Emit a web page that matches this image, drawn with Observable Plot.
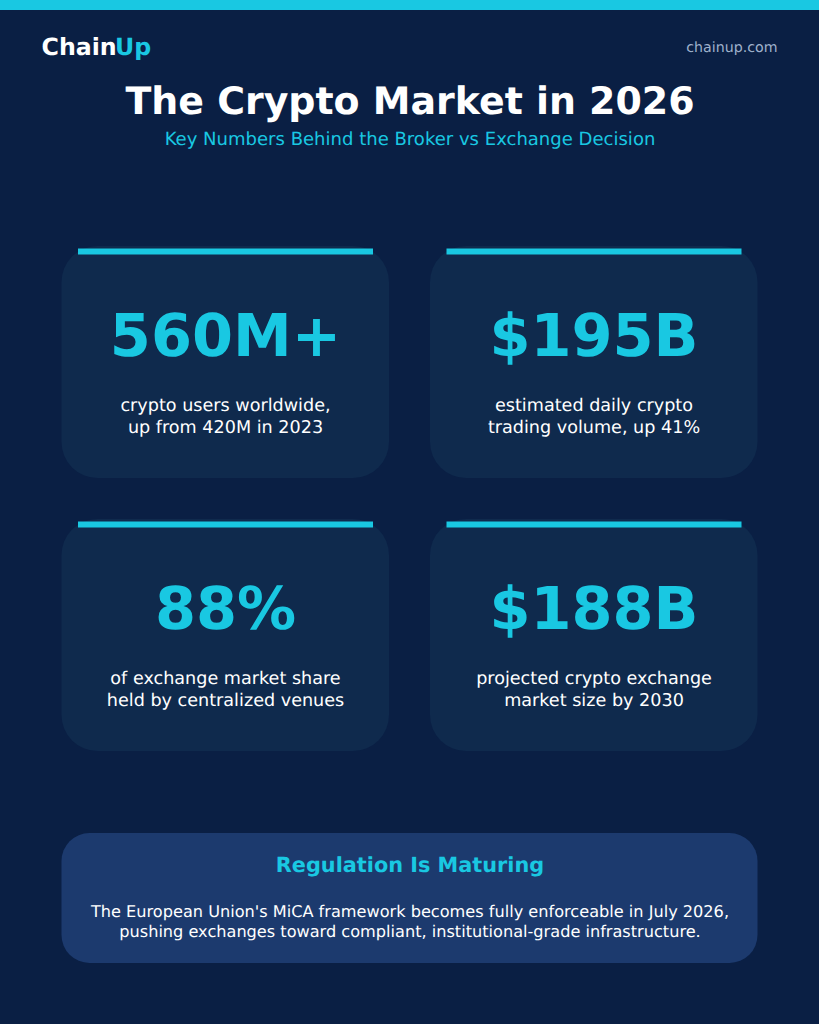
<!DOCTYPE html>
<html>
<head>
<meta charset="utf-8">
<script src="https://cdn.jsdelivr.net/npm/d3@7"></script>
<script src="https://cdn.jsdelivr.net/npm/@observablehq/plot@0.6"></script>
<style>html,body{margin:0;padding:0;background:#0A1F44}svg{display:block;text-rendering:geometricPrecision}</style>
</head>
<body>
<div id="chart"></div>
<script>
const statValues = ["560M+", "$195B", "88%", "$188B"];
const statLine1 = ["crypto users worldwide,", "estimated daily crypto", "of exchange market share", "projected crypto exchange"];
const statLine2 = ["up from 420M in 2023", "trading volume, up 41%", "held by centralized venues", "market size by 2030"];
const bannerTitle = "Regulation Is Maturing";
const bannerLines = ["The European Union's MiCA framework becomes fully enforceable in July 2026,", "pushing exchanges toward compliant, institutional-grade infrastructure."];

const W = 819, H = 1024;
const BG = "#0A1F44", CARD = "#0F2A4D", CYAN = "#19C8E2", BANNER = "#1C3A6E", WHITE = "#FFFFFF", MUTED = "#9FB1CC";
const colLeft = [61.5, 430], rowTop = [246, 519];
const cards = statValues.map((v, i) => ({
  v, a: statLine1[i], b: statLine2[i],
  x1: colLeft[i % 2], x2: colLeft[i % 2] + 327.5,
  cx: colLeft[i % 2] + 163.5,
  y1: rowTop[i >> 1], y2: rowTop[i >> 1] + 232,
  ty: rowTop[i >> 1]
}));
const t = (text, x, y, o) => Plot.text([text], {text: d => d, x: () => x, y: () => y, lineAnchor: "middle", ...o});

const chart = Plot.plot({
  width: W, height: H, margin: 0,
  style: {background: BG, fontFamily: "'DejaVu Sans'"},
  x: {domain: [0, W], range: [0, W], axis: null},
  y: {domain: [0, H], range: [0, H], axis: null},
  marks: [
    Plot.rect([0], {x1: () => 0, x2: () => W, y1: () => 0, y2: () => 10, fill: CYAN}),
    Plot.rect(cards, {x1: "x1", x2: "x2", y1: "y1", y2: "y2", fill: CARD, rx: 36, ry: 36}),
    Plot.rect(cards, {x1: d => d.x1 + 16.5, x2: d => d.x2 - 16, y1: d => d.ty + 2.5, y2: d => d.ty + 8.5, fill: CYAN}),
    Plot.text(cards, {x: "cx", y: d => d.ty + 91, text: "v", fontSize: 59, fontWeight: 700, fill: CYAN, lineAnchor: "middle"}),
    Plot.text(cards, {x: "cx", y: d => d.ty + 159, text: "a", fontSize: 17.6, fill: WHITE, lineAnchor: "middle"}),
    Plot.text(cards, {x: "cx", y: d => d.ty + 181, text: "b", fontSize: 17.6, fill: WHITE, lineAnchor: "middle"}),
    Plot.rect([0], {x1: () => 61.5, x2: () => 757.5, y1: () => 833, y2: () => 963, fill: BANNER, rx: 28, ry: 28}),
    t("Chain", 41, 47, {textAnchor: "start", fontSize: 23.7, fontWeight: 700, fill: WHITE}),
    t("Up", 114.5, 47, {textAnchor: "start", fontSize: 23.7, fontWeight: 700, fill: CYAN}),
    t("chainup.com", 777, 47, {textAnchor: "end", fontSize: 14.2, fill: MUTED}),
    t("The Crypto Market in 2026", 409.5, 101, {fontSize: 37.9, fontWeight: 700, fill: WHITE}),
    t("Key Numbers Behind the Broker vs Exchange Decision", 409.5, 139, {fontSize: 18.05, fill: CYAN}),
    t(bannerTitle, 409.5, 864.5, {fontSize: 20.8, fontWeight: 700, fill: CYAN}),
    t(bannerLines[0], 409.5, 911, {fontSize: 16.15, fill: WHITE}),
    t(bannerLines[1], 409.5, 931.5, {fontSize: 16.15, fill: WHITE})
  ]
});
document.getElementById("chart").appendChild(chart);
</script>
</body>
</html>
